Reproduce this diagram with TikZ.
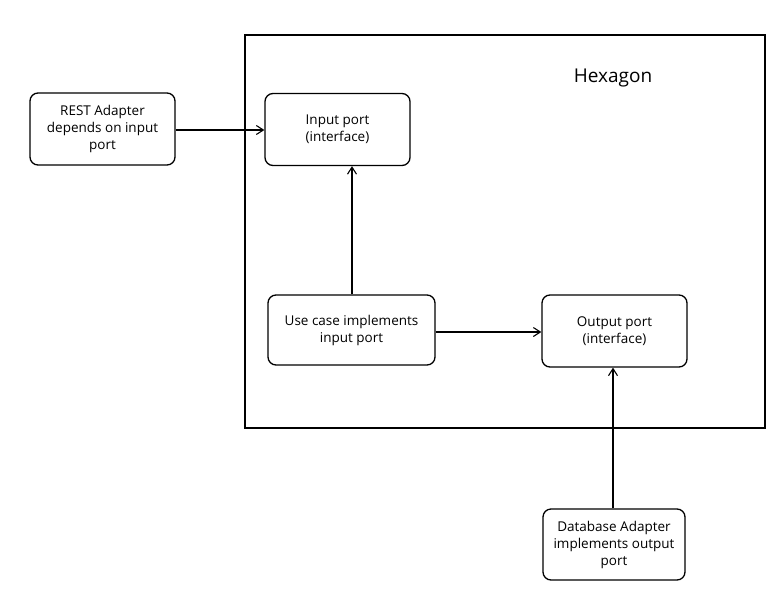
\documentclass[tikz,border=0pt]{standalone}
\usepackage{fontspec}
\setmainfont{Open Sans}
\usetikzlibrary{arrows.meta}
\begin{document}
\begin{tikzpicture}[x=1pt,y=-1pt,
  box/.style={draw, line width=1.3pt, rounded corners=8pt, align=center, font=\fontsize{13.5}{17}\selectfont, inner sep=0pt},
  conn/.style={draw, line width=1.1pt, -{Straight Barb[length=7pt,width=9pt,line width=1.1pt]}}]
\useasboundingbox (0,0) rectangle (773,613);
\node[draw, line width=1.2pt, minimum width=520pt, minimum height=393pt, inner sep=0pt] (hex) at (505,231.5) {};
\node[font=\fontsize{19}{23}\selectfont] (title) at (613,78) {Hexagon};
\node[box, minimum width=145pt, minimum height=72pt] (rest) at (102.5,129) {REST Adapter\\depends on input\\port};
\node[box, minimum width=145pt, minimum height=72pt] (in) at (337.5,129.5) {Input port\\(interface)};
\node[box, minimum width=167pt, minimum height=70pt] (uc) at (351.5,330) {Use case implements\\input port};
\node[box, minimum width=145pt, minimum height=72pt] (out) at (614.5,331) {Output port\\(interface)};
\node[box, minimum width=142pt, minimum height=71pt] (db) at (614,544.5) {Database Adapter\\implements output\\port};
\draw[conn] (rest.east |- 0,130) -- (in.west |- 0,130);
\draw[conn] (uc.north -| 352,0) -- (in.south -| 352,0);
\draw[conn] (uc.east |- 0,332) -- (out.west |- 0,332);
\draw[conn] (db.north -| 613,0) -- (out.south -| 613,0);
\end{tikzpicture}
\end{document}
